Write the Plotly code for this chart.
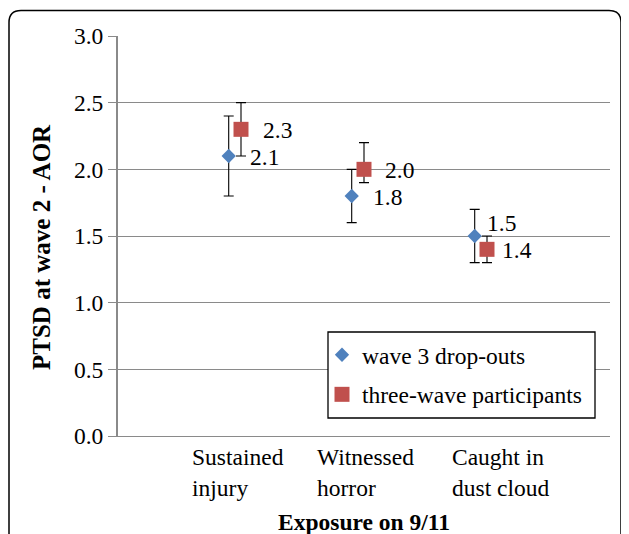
import plotly.graph_objects as go

categories = ["Sustained<br>injury", "Witnessed<br>horror", "Caught in<br>dust cloud"]
cat_pos = [1, 2, 3]
drop_x = [0.9, 1.9, 2.9]
drop_vals = [2.1, 1.8, 1.5]
drop_hi = [2.4, 2.0, 1.7]
drop_lo = [1.8, 1.6, 1.3]
part_x = [1.0, 2.0, 3.0]
part_vals = [2.3, 2.0, 1.4]
part_hi = [2.5, 2.2, 1.5]
part_lo = [2.1, 1.9, 1.3]

# page has an 8px body margin; reference pixel coords are converted to paper coords
OFF = 8
W, H = 629 - OFF, 534 - OFF
L, R, T, B = 118, 610, 36, 436   # plot area in reference pixels


def px(x):
    return (x - L) / (R - L)


def py(y):
    return (B - y) / (B - T)


FONT = "Liberation Serif, Times New Roman, serif"
FS = 23.5
GRID = "#8a8a8a"

fig = go.Figure()
fig.add_trace(go.Scatter(
    x=drop_x, y=drop_vals, mode="markers", name="wave 3 drop-outs",
    legendgroup="a",
    marker=dict(symbol="diamond", size=11, color="#4F81BD"),
    error_y=dict(type="data", symmetric=False,
                 array=[h - v for h, v in zip(drop_hi, drop_vals)],
                 arrayminus=[v - l for l, v in zip(drop_lo, drop_vals)],
                 color="black", thickness=1.1, width=5),
))
fig.add_trace(go.Scatter(
    x=part_x, y=part_vals, mode="markers", name="three-wave participants",
    legendgroup="b",
    marker=dict(symbol="square", size=15, color="#C0504D"),
    error_y=dict(type="data", symmetric=False,
                 array=[h - v for h, v in zip(part_hi, part_vals)],
                 arrayminus=[v - l for l, v in zip(part_lo, part_vals)],
                 color="black", thickness=1.1, width=5),
))

annotations = []
# data labels
drop_xshift = [19, 19, 10]
drop_yshift = [-1, -1, 13]
for x, v, dx, dy in zip(drop_x, drop_vals, drop_xshift, drop_yshift):
    annotations.append(dict(x=x, y=v, xref="x", yref="y", text=f"{v:.1f}",
                            showarrow=False, xanchor="left", yanchor="middle",
                            xshift=dx, yshift=dy,
                            font=dict(family=FONT, size=FS, color="black")))
part_xshift = [20, 19, 13]
part_yshift = [-1, -1, -1]
for x, v, dx, dy in zip(part_x, part_vals, part_xshift, part_yshift):
    annotations.append(dict(x=x, y=v, xref="x", yref="y", text=f"{v:.1f}",
                            showarrow=False, xanchor="left", yanchor="middle",
                            xshift=dx, yshift=dy,
                            font=dict(family=FONT, size=FS, color="black")))
# category labels (left-aligned text boxes)
cat_xshift = [-3, 1, 14]
for c, x, dx in zip(categories, cat_pos, cat_xshift):
    annotations.append(dict(x=x, y=py(442), xref="x", yref="paper", text=c,
                            showarrow=False, xanchor="center", yanchor="top",
                            align="left", xshift=dx,
                            font=dict(family=FONT, size=FS, color="black")))
# axis titles
annotations.append(dict(x=0.5, y=py(522), xref="paper", yref="paper",
                        text="<b>Exposure on 9/11</b>", showarrow=False,
                        xanchor="center", yanchor="middle",
                        font=dict(family=FONT, size=FS, color="black")))
annotations.append(dict(x=px(41), y=py(247), xref="paper", yref="paper",
                        text="<b>PTSD at wave 2 - AOR</b>", showarrow=False,
                        textangle=-90, xanchor="center", yanchor="middle",
                        font=dict(family=FONT, size=25, color="black")))

r = 12
x0, x1 = 9, 621
y0, y1 = 10.5, 560
path = (f"M {px(x0)},{py(y1)} L {px(x0)},{py(y0 + r)} "
        f"Q {px(x0)},{py(y0)} {px(x0 + r)},{py(y0)} "
        f"L {px(x1 - r)},{py(y0)} Q {px(x1)},{py(y0)} {px(x1)},{py(y0 + r)} "
        f"L {px(x1)},{py(y1)}")

shapes = [
    dict(type="path", xref="paper", yref="paper", path=path,
         line=dict(color="black", width=1.5)),
    # legend frame
    dict(type="rect", xref="paper", yref="paper", layer="above",
         x0=px(328), x1=px(595), y0=py(418), y1=py(332),
         fillcolor="white", line=dict(color="black", width=1.3)),
]

fig.update_layout(
    width=W, height=H,
    margin=dict(l=L - OFF, r=629 - R, t=T - OFF, b=534 - B, pad=0),
    paper_bgcolor="white", plot_bgcolor="white",
    font=dict(family=FONT, size=FS, color="black"),
    showlegend=True,
    legend=dict(x=px(322), y=py(333), xanchor="left", yanchor="top",
                borderwidth=0, bgcolor="rgba(0,0,0,0)",
                font=dict(family=FONT, size=FS), traceorder="grouped",
                tracegroupgap=6),
    shapes=shapes,
    annotations=annotations,
    xaxis=dict(range=[0, 4], showticklabels=False,
               showgrid=False, zeroline=False, showline=True,
               linecolor=GRID, linewidth=1, ticks=""),
    yaxis=dict(range=[0, 3.0], dtick=0.5, tickformat=".1f",
               showgrid=True, gridcolor=GRID, gridwidth=1.2,
               zeroline=False, showline=True, linecolor=GRID, linewidth=2,
               ticks="outside", ticklen=8, tickcolor=GRID, tickwidth=1.2,
               tickfont=dict(family=FONT, size=FS)),
)

fig.write_html("out.html")
